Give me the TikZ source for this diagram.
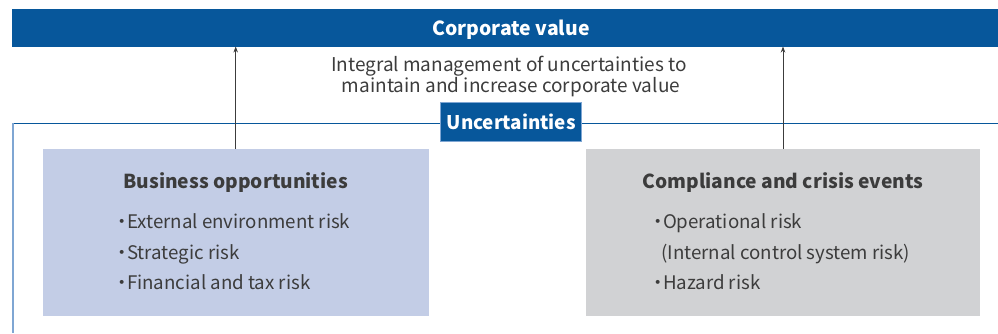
\documentclass[tikz,border=0pt]{standalone}
\usepackage{fontspec}
\setmainfont{Noto Sans CJK JP}
\usetikzlibrary{arrows.meta}
\definecolor{cblue}{HTML}{07579B}
\definecolor{lblue}{HTML}{7FA6D3}
\definecolor{bizfill}{HTML}{C3CDE6}
\definecolor{compfill}{HTML}{D1D2D4}
\definecolor{txt}{HTML}{3C3C3C}
\newcommand{\bdot}{\textbf{･}}
\tikzset{
  bar/.style={fill=cblue, draw=none},
  body/.style={text=txt, font=\fontsize{18.7pt}{21pt}\selectfont, inner sep=0pt},
  head/.style={text=txt, font=\fontsize{19.2pt}{21pt}\selectfont\bfseries, inner sep=0pt},
  uparrow/.style={draw=txt, line width=0.7pt, -{Stealth[length=6pt,width=4.5pt]}},
}
\begin{document}
\begin{tikzpicture}[x=1pt,y=-1pt]
\useasboundingbox (0,0) rectangle (998,333);
% corporate value bar
\fill[bar] (12,9) rectangle (998,46.5);
\node[text=white, font=\fontsize{19.4pt}{21pt}\selectfont\bfseries, inner sep=0pt, anchor=base] (cv) at (511,35) {Corporate value};
\coordinate (cvL) at (235.7,46.5);
\coordinate (cvR) at (783,46.5);
% frame lines
\draw[cblue, line width=0.8pt] (12,123.3) -- (998,123.3);
\draw[lblue, line width=1.6pt] (12.8,123.3) -- (12.8,333);
% integral text
\node[body, font=\fontsize{19pt}{21pt}\selectfont, anchor=base] (int1) at (509,71) {Integral management of uncertainties to};
\node[body, font=\fontsize{19pt}{21pt}\selectfont, anchor=base] (int2) at (511,92) {maintain and increase corporate value};
% uncertainties label
\node[fill=cblue, draw=lblue, line width=0.5pt, text=white, font=\fontsize{18.8pt}{21pt}\selectfont\bfseries, minimum width=141pt, minimum height=39pt, inner sep=0pt] (unc) at (511.2,121.7) {Uncertainties};
% panels
\fill[bizfill] (43,149) rectangle (428.7,315.7);
\fill[compfill] (586,149) rectangle (980,315.7);
\coordinate (bizT) at (235.7,149);
\coordinate (compT) at (783,149);
\draw[uparrow] (bizT) -- (cvL);
\draw[uparrow] (compT) -- (cvR);
% business text
\node[head, anchor=base] (bh) at (235.7,188.3) {Business opportunities};
\node[body, anchor=base west] (b1) at (117.5,228.3) {\bdot External environment risk};
\node[body, anchor=base west] (b2) at (117.5,259.3) {\bdot Strategic risk};
\node[body, anchor=base west] (b3) at (117.5,289.3) {\bdot Financial and tax risk};
% compliance text
\node[head, anchor=base] (ch) at (783,188.3) {Compliance and crisis events};
\node[body, anchor=base west] (c1) at (653.5,228.3) {\bdot Operational risk};
\node[body, anchor=base west] (c2) at (661,259.3) {(Internal control system risk)};
\node[body, anchor=base west] (c3) at (653.5,289.3) {\bdot Hazard risk};
\end{tikzpicture}
\end{document}
